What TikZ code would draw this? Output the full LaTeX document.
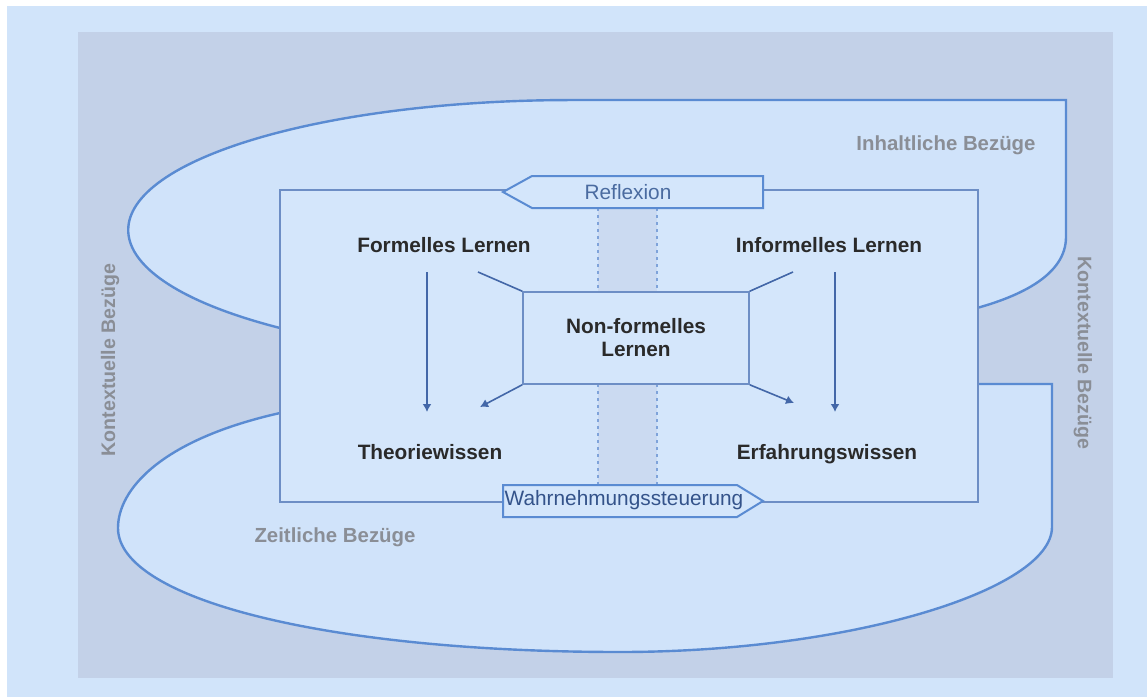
\documentclass[tikz,border=0pt]{standalone}
\usepackage{fontspec}
\setmainfont{Liberation Sans}
\usetikzlibrary{arrows.meta}

\definecolor{bglight}{HTML}{D1E4FA}
\definecolor{panel}{HTML}{C3D1E8}
\definecolor{zonefill}{HTML}{D0E3FA}
\definecolor{zoneline}{HTML}{5A8BD2}
\definecolor{framefill}{HTML}{D4E6FB}
\definecolor{frameline}{HTML}{6D8EC5}
\definecolor{bandfill}{HTML}{CBDAF1}
\definecolor{bandline}{HTML}{7FA3DA}
\definecolor{flowline}{HTML}{4367A8}
\definecolor{textdark}{HTML}{2A2A2A}
\definecolor{textgray}{HTML}{8A8E96}
\definecolor{tagtext}{HTML}{4A6BA0}
\definecolor{tagdark}{HTML}{34538A}

\tikzset{
  zone/.style={fill=zonefill, draw=zoneline, line width=1.2pt},
  innerframe/.style={fill=framefill, draw=frameline, line width=0.8pt},
  tagbox/.style={fill=framefill, draw=zoneline, line width=1pt},
  tagtxt/.style={font=\fontsize{10.4}{12}\selectfont, text=tagtext, inner sep=1pt},
  dotline/.style={draw=bandline, line width=0.7pt, dash pattern=on 1.5pt off 2pt},
  lbl/.style={font=\fontsize{10.4}{12}\selectfont\bfseries, text=textdark, inner sep=1pt,
    text height=7.6pt, text depth=2.2pt},
  ctx/.style={font=\fontsize{10.2}{12}\selectfont\bfseries, text=textgray, inner sep=1pt},
  nfbox/.style={innerframe, align=center, minimum width=113pt, minimum height=46pt,
    font=\fontsize{10.4}{12.5}\selectfont\bfseries, text=textdark},
  link/.style={draw=flowline, line width=0.8pt},
  flow/.style={link, -{Latex[length=4pt,width=4.5pt]}}
}

\begin{document}
\begin{tikzpicture}[x=0.5pt, y=-0.5pt] % 1 unit = 1 px of the reference, y downwards

  \useasboundingbox (0,0) rectangle (1147,697);

  % background
  \fill[white] (0,0) rectangle (1147,697);
  \fill[bglight] (7,6) rectangle (1147,697);
  \fill[panel] (78,32) rectangle (1113,678);

  % upper zone
  \filldraw[zone] (280,328) arc[start angle=131.1, end angle=270, x radius=443, y radius=130]
    -- (1066,100) -- (1066,237) .. controls (1066,275) and (1020,296) .. (977,308) -- cycle;

  % lower zone
  \filldraw[zone] (280,413) .. controls (160,440) and (118,490) .. (118,528)
    .. controls (118,600) and (330,652) .. (620,652)
    .. controls (850,652) and (1052,590) .. (1052,527)
    -- (1052,384) -- (978,384) -- cycle;

  % inner frame
  \filldraw[innerframe] (280,190) rectangle (978,502);

  % middle band
  \fill[bandfill] (598,208) rectangle (657,485);
  \draw[dotline] (598,208) -- (598,292) (657,208) -- (657,292);
  \draw[dotline] (598,384) -- (598,485) (657,384) -- (657,485);

  % tags on the frame
  \filldraw[tagbox] (503,192) -- (532,176) -- (763,176) -- (763,208) -- (532,208) -- cycle;
  \node[tagtxt] (refl) at (628,192) {Reflexion};
  \filldraw[tagbox] (503,485) -- (737,485) -- (763,501) -- (737,517) -- (503,517) -- cycle;
  \node[tagtxt, text=tagdark] (wahr) at (624,500) {Wahrnehmungssteuerung};

  % centre box
  \node[nfbox] (nf) at (636,338) {Non-formelles\\[-1pt]Lernen};

  % labels
  \node[lbl] (form) at (444,247) {Formelles Lernen};
  \node[lbl] (inform) at (829,247) {Informelles Lernen};
  \node[lbl] (theo) at (430,454) {Theoriewissen};
  \node[lbl] (erf) at (827,454) {Erfahrungswissen};

  % connector ends
  \coordinate (form-out) at (427,272);
  \coordinate (theo-in) at (427,412);
  \coordinate (inform-out) at (835,272);
  \coordinate (erf-in) at (835,412);
  \coordinate (form-nf) at (478,272);
  \coordinate (inform-nf) at (793,272);
  \coordinate (nf-theo) at (480,407);
  \coordinate (nf-erf) at (794,403);

  % connectors
  \draw[flow] (form-out) -- (theo-in);
  \draw[flow] (inform-out) -- (erf-in);
  \draw[link] (form-nf) -- (nf.north west);
  \draw[link] (inform-nf) -- (nf.north east);
  \draw[flow] (nf.south west) -- (nf-theo);
  \draw[flow] (nf.south east) -- (nf-erf);

  % context labels
  \node[ctx] (inh) at (946,145) {Inhaltliche Bezüge};
  \node[ctx] (zeit) at (335,537) {Zeitliche Bezüge};
  \node[ctx, font=\fontsize{9.8}{12}\selectfont\bfseries, rotate=90] (kont-l) at (110,360) {Kontextuelle Bezüge};
  \node[ctx, font=\fontsize{9.8}{12}\selectfont\bfseries, rotate=-90] (kont-r) at (1083,353) {Kontextuelle Bezüge};

\end{tikzpicture}
\end{document}
